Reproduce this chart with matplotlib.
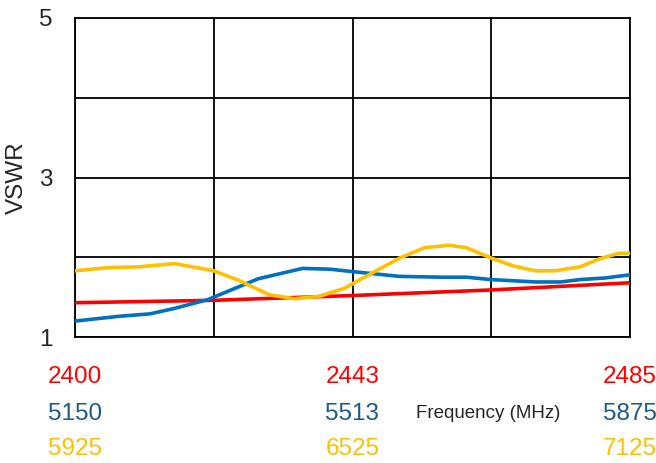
import matplotlib
matplotlib.use("Agg")
import matplotlib.pyplot as plt
import numpy as np

plt.rcParams['font.family'] = ['Liberation Sans', 'DejaVu Sans']

# Normalised sweep position across each band (0 = band start, 100 = band end)
red_x = [0, 25, 50, 75, 100]
red_vswr = [1.43, 1.46, 1.52, 1.59, 1.68]

blue_x = [0, 8, 13.5, 18, 24, 25, 33, 41, 46, 50, 58.5, 66, 70.5, 75, 83, 87.5, 91, 95.5, 100]
blue_vswr = [1.20, 1.26, 1.29, 1.36, 1.47, 1.50, 1.73, 1.86, 1.85, 1.82, 1.76, 1.75, 1.75, 1.72, 1.69, 1.69, 1.72, 1.74, 1.78]

yellow_x = [0, 6, 11.5, 18, 25, 29.5, 35, 39.5, 44, 48.5, 54, 58.5, 63, 67.5, 70.5, 75, 79, 83, 86.5, 91, 94.5, 98, 100]
yellow_vswr = [1.83, 1.87, 1.88, 1.92, 1.83, 1.71, 1.53, 1.48, 1.51, 1.61, 1.82, 1.99, 2.12, 2.15, 2.12, 1.99, 1.89, 1.83, 1.83, 1.88, 1.98, 2.05, 2.05]

tick_pos = [0, 50, 100]
red_ticks = ["2400", "2443", "2485"]
blue_ticks = ["5150", "5513", "5875"]
yellow_ticks = ["5925", "6525", "7125"]

RED = "#FF0000"
BLUE = "#0070C0"
BLUE_TXT = "#1F5A87"
YELLOW = "#FFC000"

fig = plt.figure(figsize=(6.56, 4.63), dpi=100)
ax = fig.add_axes([75/656, 1-337/463, 555/656, 319/463])

ax.plot(red_x, red_vswr, color=RED, lw=2.6, solid_capstyle='butt', zorder=3)
ax.plot(blue_x, blue_vswr, color=BLUE, lw=2.6, solid_joinstyle='round', zorder=4)
ax.plot(yellow_x, yellow_vswr, color=YELLOW, lw=2.6, solid_joinstyle='round', zorder=5)

ax.set_xlim(0, 100)
ax.set_ylim(1, 5)
ax.set_xticks([0, 25, 50, 75, 100])
ax.set_xticklabels([])
ax.set_yticks([1, 3, 5])
ax.set_yticks([2, 4], minor=True)
ax.tick_params(axis='both', which='both', length=0)
ax.tick_params(axis='y', labelsize=17.5, pad=16)
for lab in ax.get_yticklabels():
    lab.set_color('#262626')
ax.grid(True, which='both', color='black', lw=1.3, zorder=1)
for s in ax.spines.values():
    s.set_color('black')
    s.set_linewidth(1.3)
ax.set_ylabel("VSWR", fontsize=17.5, labelpad=8, color='#262626')

tr = ax.get_xaxis_transform()
rows = [(red_ticks, RED, -0.125), (blue_ticks, BLUE_TXT, -0.241), (yellow_ticks, YELLOW, -0.351)]
for labels, col, yy in rows:
    for xp, lab in zip(tick_pos, labels):
        ax.text(xp, yy, lab, transform=tr, ha='center', va='center',
                fontsize=17.5, color=col, clip_on=False)

ax.text(74.5, -0.241, "Frequency (MHz)", transform=tr, ha='center', va='center',
        fontsize=13.5, color='#262626')

fig.savefig("out.png", dpi=100)
